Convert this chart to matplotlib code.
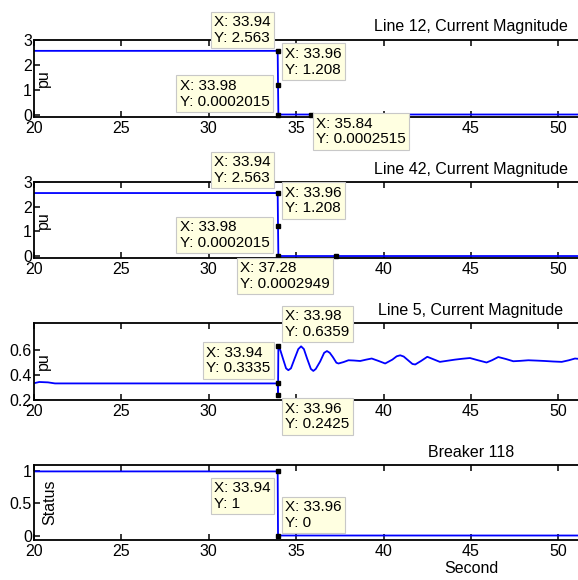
import numpy as np
import matplotlib
matplotlib.use("Agg")
import matplotlib.pyplot as plt

plt.rcParams['font.family'] = ['Liberation Sans', 'DejaVu Sans']
plt.rcParams['font.size'] = 11.5

# ---- data ----
t_line = [20, 33.94, 33.96, 33.98, 35.84, 37.28, 70]
i_line12 = [2.563, 2.563, 1.208, 0.0002015, 0.0002515, 0.0002600, 0.0003]
i_line42 = [2.563, 2.563, 1.208, 0.0002015, 0.0002700, 0.0002949, 0.0003]

t_line5 = [20, 20.3, 20.8, 21.2, 33.94, 33.96, 33.98, 34.05, 34.25, 34.42, 34.55,
           34.7, 34.9, 35.12, 35.28, 35.44, 35.62, 35.84, 35.98, 36.12, 36.37,
           36.6, 36.76, 36.92, 37.1, 37.3, 37.42, 37.7, 37.99, 38.3, 38.66,
           39.0, 39.32, 39.7, 40.09, 40.5, 40.75, 40.95, 41.15, 41.4, 41.65,
           41.81, 42.15, 42.5, 42.85, 43.22, 43.6, 44.08, 44.5, 44.94, 45.4,
           45.89, 46.2, 46.56, 47.0, 47.42, 47.8, 48.28, 48.8, 49.24, 49.7,
           50.19, 50.6, 50.95, 52, 70]
i_line5 = [0.335, 0.345, 0.342, 0.3335, 0.3335, 0.2425, 0.6359, 0.62, 0.53, 0.455, 0.44,
           0.455, 0.53, 0.61, 0.632, 0.61, 0.535, 0.45, 0.434, 0.45, 0.51,
           0.58, 0.594, 0.58, 0.545, 0.5, 0.494, 0.505, 0.52, 0.518, 0.514,
           0.525, 0.534, 0.515, 0.494, 0.525, 0.552, 0.56, 0.55, 0.52, 0.49,
           0.486, 0.515, 0.548, 0.528, 0.507, 0.515, 0.525, 0.532, 0.538, 0.52,
           0.502, 0.52, 0.546, 0.53, 0.512, 0.515, 0.52, 0.517, 0.514, 0.51,
           0.507, 0.52, 0.534, 0.52, 0.52]

t_brk = [20, 33.94, 33.96, 70]
s_brk = [1, 1, 0, 0]

titles = ["Line 12, Current Magnitude", "Line 42, Current Magnitude",
          "Line 5, Current Magnitude", "Breaker 118"]
ylabels = ["pu", "pu", "pu", "Status"]

# data tips (x, y) per panel
tips_x = [[33.94, 33.96, 33.98, 35.84],
          [33.94, 33.96, 33.98, 37.28],
          [33.94, 33.98, 33.96],
          [33.94, 33.96]]
tips_y = [[2.563, 1.208, 0.0002015, 0.0002515],
          [2.563, 1.208, 0.0002015, 0.0002949],
          [0.3335, 0.6359, 0.2425],
          [1, 0]]

# ---- layout ----
W, H = 578, 580
tip_place = [  # (dx px, dy px, ha, va)
    [(-7, 6, 'right', 'bottom'), (7, 8, 'left', 'bottom'),
     (-9, 6, 'right', 'bottom'), (5, -2, 'left', 'top')],
    [(-7, 8, 'right', 'bottom'), (7, 11, 'left', 'bottom'),
     (-9, 6, 'right', 'bottom'), (-6, -5, 'right', 'top')],
    [(-7, 8, 'right', 'bottom'), (7, 7, 'left', 'bottom'),
     (7, -7, 'left', 'top')],
    [(-7, -10, 'right', 'top'), (7, 6, 'left', 'bottom')],
]
panels = [(39.5, 117), (182.3, 258), (323, 400), (465, 540)]  # top, bottom px
ylims = [(-0.1, 3.02), (-0.08, 3.0), (0.2, 0.82), (-0.07, 1.1)]
yticks = [[0, 1, 2, 3], [0, 1, 2, 3], [0.2, 0.4, 0.6], [0, 0.5, 1]]
ylab_x = [0.0103, 0.0103, 0.0103, 0.0183]

fig = plt.figure(figsize=(W / 100, H / 100), dpi=100)
fig.patch.set_facecolor('white')

series = [(t_line, i_line12), (t_line, i_line42), (t_line5, i_line5), (t_brk, s_brk)]

for k in range(4):
    top, bot = panels[k]
    # the axes runs on past the right edge of the picture (x up to 70)
    ax = fig.add_axes([34 / W, 1 - bot / H, 874 / W, (bot - top) / H])
    t, v = series[k]
    ax.plot(t, v, color='#0000ff', lw=1.3, solid_joinstyle='round')
    ax.set_xlim(20, 70)
    ax.set_ylim(*ylims[k])
    ax.set_xticks(range(20, 51, 5))
    ax.set_yticks(yticks[k])
    ax.set_yticklabels(['%g' % y for y in yticks[k]])
    ax.tick_params(direction='in', top=True, right=True, length=4.5, width=1.1,
                   labelsize=11.5, pad=3)
    ax.tick_params(axis='y', pad=1.5)
    for sp in ax.spines.values():
        sp.set_linewidth(1.3)
    ax.set_title(titles[k], fontsize=11.5)
    ax.text(ylab_x[k], 0.5, ylabels[k], rotation=90, ha='center', va='center',
            transform=ax.transAxes, fontsize=11.5)

    ax.plot(tips_x[k], tips_y[k], 's', color='black', ms=3.5, zorder=5, clip_on=False)
    for x, y, (dx, dy, ha, va) in zip(tips_x[k], tips_y[k], tip_place[k]):
        ax.annotate('X: %.2f\nY: %.4g' % (x, y), xy=(x, y), xytext=(dx, dy),
                    textcoords='offset pixels', ha=ha, va=va, fontsize=11,
                    multialignment='left', linespacing=1.15, zorder=6,
                    annotation_clip=False,
                    bbox=dict(boxstyle='square,pad=0.22', fc='#ffffe1',
                              ec='#c8c8c8', lw=0.8))
    if k == 3:
        ax.set_xlabel('Second', fontsize=11.5, labelpad=1)

fig.savefig('out.png', dpi=100)
